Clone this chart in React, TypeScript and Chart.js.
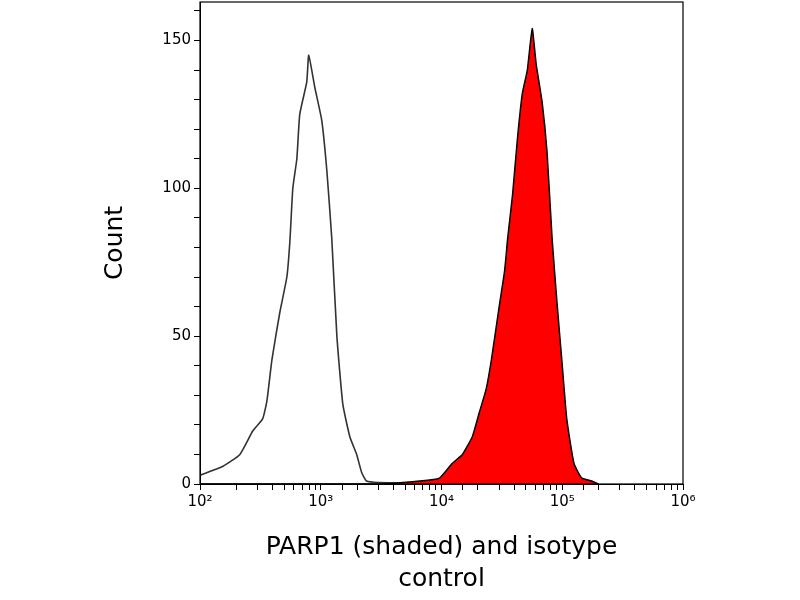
import React, { useEffect, useRef } from "react";
import { Chart, registerables } from "chart.js";
Chart.register(...registerables);

const isoX = [100, 155, 214, 274, 330, 358, 394, 458, 524, 555, 587, 634, 670, 766, 795, 894, 1019, 1123, 1234, 1360, 1523, 1741, 1984, 2178, 2392, 3000, 10000];
const isoY = [3, 6, 10, 18, 22, 28, 42, 58, 70, 82, 100, 110, 125, 136, 145, 134, 123, 106, 83, 50, 27, 16, 10, 4, 1, 0.5, 0];
const parpX = [100, 3000, 6580, 9620, 12300, 14900, 18000, 20500, 23400, 25900, 30300, 33300, 35300, 38800, 42600, 46700, 51400, 56400, 60800, 68200, 74900, 82400, 90600, 99600, 109000, 125000, 145000, 175000, 200000];
const parpY = [0, 0, 1, 2, 7, 10, 16, 24, 32, 42, 61, 72, 83, 98, 117, 132, 140, 154, 142, 129, 112, 83, 61, 41, 22, 7, 2, 1, 0];
const yTicks = [0, 50, 100, 150];

const sup: Record<string, string> = { "2": "²", "3": "³", "4": "⁴", "5": "⁵", "6": "⁶" };

export default function App() {
  const ref = useRef<HTMLCanvasElement>(null);
  useEffect(() => {
    document.body.style.margin = "0";
    const font = "'DejaVu Sans', sans-serif";
    const boxPlugin = {
      id: "box",
      afterDraw(c: any) {
        const { left, right, top, bottom } = c.chartArea;
        const ctx = c.ctx;
        ctx.save();
        ctx.strokeStyle = "#000";
        ctx.lineWidth = 1.2;
        ctx.strokeRect(left, top, right - left, bottom - top);
        ctx.restore();
      },
    };
    const chart = new Chart(ref.current!, {
      type: "scatter",
      data: {
        datasets: [
          {
            data: parpX.map((x, i) => ({ x, y: parpY[i] })),
            showLine: true,
            borderColor: "#000",
            borderWidth: 1.5,
            backgroundColor: "#ff0000",
            fill: "origin",
            pointRadius: 0,
            tension: 0.15,
          },
          {
            data: isoX.map((x, i) => ({ x, y: isoY[i] })),
            showLine: true,
            borderColor: "#333",
            borderWidth: 1.6,
            fill: false,
            pointRadius: 0,
            tension: 0.15,
          },
        ],
      },
      options: {
        animation: false,
        responsive: false,
        layout: { padding: { top: 2, right: 117, left: 0, bottom: 0 } },
        plugins: { legend: { display: false }, tooltip: { enabled: false } },
        scales: {
          x: {
            type: "logarithmic",
            min: 100,
            max: 1000000,
            grid: { display: true, drawOnChartArea: false, drawTicks: true, tickLength: 6, color: "#000" },
            border: { color: "#000" },
            ticks: {
              autoSkip: false,
              maxRotation: 0,
              color: "#000",
              font: { family: font, size: 15 },
              callback: (v: any) => {
                const l = Math.log10(v);
                return Math.abs(l - Math.round(l)) < 1e-9 ? "10" + sup[String(Math.round(l))] : "";
              },
            },
            title: { display: true, text: ["PARP1 (shaded) and isotype", "control"], color: "#000", font: { family: font, size: 25, lineHeight: 1.3 }, padding: { top: 16 } },
            afterFit: (s: any) => { s.height = 116; },
          },
          y: {
            min: 0,
            max: 163,
            grid: { display: true, drawOnChartArea: false, drawTicks: true, tickLength: 6, color: "#000" },
            border: { color: "#000" },
            afterBuildTicks: (s: any) => {
              const t = [];
              for (let v = 0; v <= 160; v += 10) t.push({ value: v });
              s.ticks = t;
            },
            ticks: {
              autoSkip: false,
              color: "#000",
              font: { family: font, size: 15 },
              callback: (v: any) => (yTicks.includes(v) ? String(v) : ""),
            },
            title: { display: true, text: "Count", color: "#000", font: { family: font, size: 25 }, padding: { top: 100, bottom: 0 } },
            afterFit: (s: any) => { s.width = 200; s.paddingTop = 0; s.paddingBottom = 0; },
          },
        },
      },
      plugins: [boxPlugin],
    } as any);
    return () => chart.destroy();
  }, []);
  return <canvas ref={ref} width={800} height={600} />;
}
